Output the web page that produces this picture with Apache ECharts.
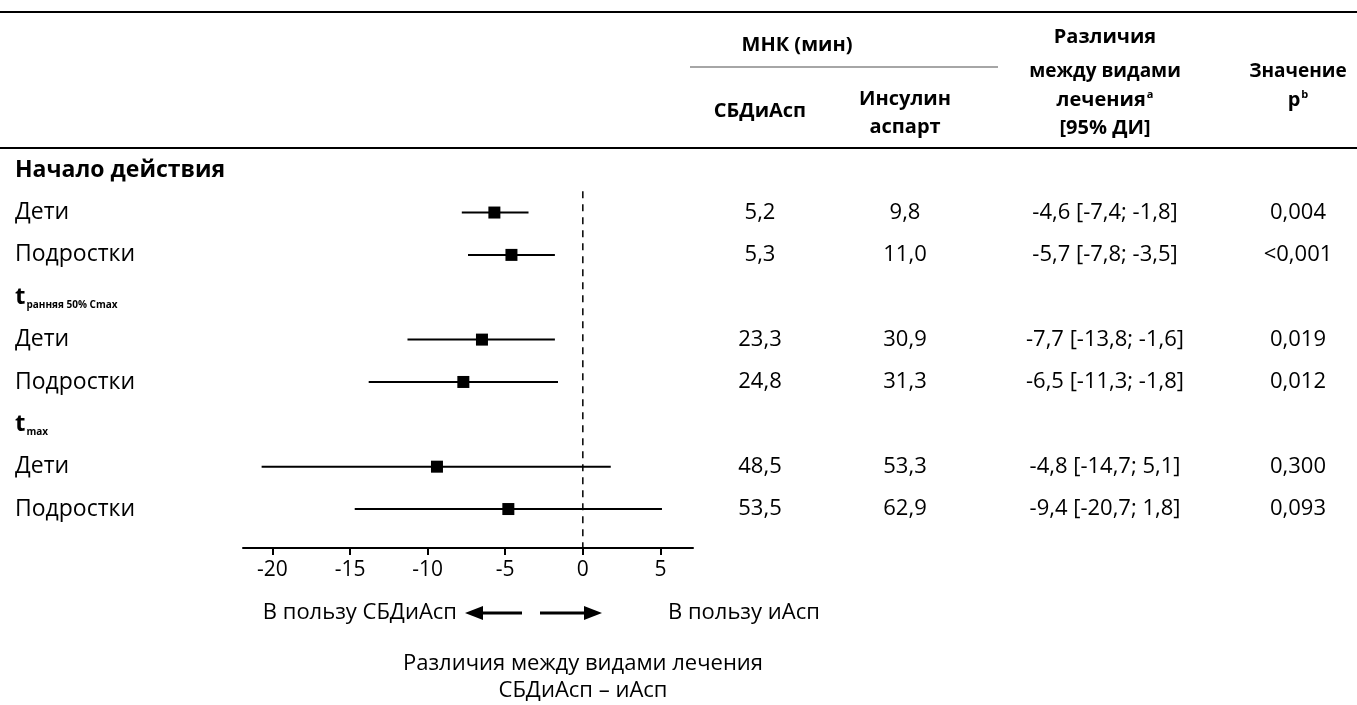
<!DOCTYPE html>
<html><head><meta charset="utf-8">
<script src="https://cdn.jsdelivr.net/npm/echarts@6/dist/echarts.min.js"></script>
<style>html,body{margin:0;padding:0;background:#fff}#c{width:1357px;height:705px}</style>
</head><body><div id="c"></div>
<script>
// ---------- data ----------
const rowLabels = ['Начало действия', 'Дети', 'Подростки', 't', 'Дети', 'Подростки', 't', 'Дети', 'Подростки'];
const rowSubs   = ['', '', '', 'ранняя 50% Cmax', '', '', 'max', '', ''];
const rowKinds  = ['group', 'item', 'item', 'sub', 'item', 'item', 'sub', 'item', 'item'];
// plotted estimates and 95% CI (as drawn in the forest plot)
const estimate = [null, -5.7, -4.6, null, -6.5, -7.7, null, -9.4, -4.8];
const ciLow    = [null, -7.8, -7.4, null, -11.3, -13.8, null, -20.7, -14.7];
const ciHigh   = [null, -3.5, -1.8, null, -1.8, -1.6, null, 1.8, 5.1];
// table columns
const lsmFiasp  = ['', '5,2', '5,3', '', '23,3', '24,8', '', '48,5', '53,5'];
const lsmIAsp   = ['', '9,8', '11,0', '', '30,9', '31,3', '', '53,3', '62,9'];
const diffText  = ['', '-4,6 [-7,4; -1,8]', '-5,7 [-7,8; -3,5]', '', '-7,7 [-13,8; -1,6]', '-6,5 [-11,3; -1,8]', '', '-4,8 [-14,7; 5,1]', '-9,4 [-20,7; 1,8]'];
const pText     = ['', '0,004', '<0,001', '', '0,019', '0,012', '', '0,300', '0,093'];
const xTicks = [-20, -15, -10, -5, 0, 5];
const xMin = -21.9, xMax = 7.1;
const yMin = -0.5, yMax = 8.92;

// ---------- chart ----------
const FONT = 'Open Sans';
const FS = 19;      // bold header size
const BFS = 22;     // body text size
const colX = [760, 905, 1105, 1298];
const chart = echarts.init(document.getElementById('c'));

const ciData = [];
estimate.forEach((e, i) => { if (e !== null) ciData.push([e, i, ciLow[i], ciHigh[i]]); });
const tableData = rowLabels.map((_, i) => [0, i]);

function rowFormatter(v) {
  const i = Math.round(v);
  if (rowKinds[i] === 'group') return '{g|' + rowLabels[i] + '}';
  if (rowKinds[i] === 'sub') return '{t|' + rowLabels[i] + '}{s|' + rowSubs[i] + '}';
  return '{n|' + rowLabels[i] + '}';
}

const txt = (x, y, text, opts) => Object.assign({
  type: 'text', x: x, y: y,
  style: Object.assign({ text: text, fill: '#000', font: 'bold ' + FS + 'px "' + FONT + '"', align: 'center', verticalAlign: 'middle' }, opts || {})
});
const body = BFS + 'px "' + FONT + '"';
const hdr = 'bold 20px "' + FONT + '"';

chart.setOption({
  animation: false,
  backgroundColor: '#fff',
  grid: { left: 243, right: 1357 - 693, top: 149, height: 399, containLabel: false },
  xAxis: {
    type: 'value', min: xMin, max: xMax,
    axisLine: { show: true, onZero: false, lineStyle: { color: '#000', width: 2 } },
    axisTick: { show: true, customValues: xTicks, length: 7, lineStyle: { color: '#000', width: 2 } },
    axisLabel: { customValues: xTicks, color: '#000', fontFamily: FONT, fontSize: 21, margin: 12 },
    splitLine: { show: false }
  },
  yAxis: {
    type: 'value', inverse: true, min: yMin, max: yMax,
    axisLine: { show: false }, axisTick: { show: false }, splitLine: { show: false },
    axisLabel: {
      customValues: rowLabels.map((_, i) => i),
      align: 'left', margin: 228, formatter: rowFormatter,
      rich: {
        g: { fontFamily: FONT, fontWeight: 'bold', fontSize: 23, color: '#000' },
        n: { fontFamily: FONT, fontSize: 23, color: '#000' },
        t: { fontFamily: FONT, fontWeight: 'bold', fontSize: 24, color: '#000' },
        s: { fontFamily: FONT, fontWeight: 'bold', fontSize: 10, color: '#000', padding: [16, 0, 0, 1] }
      }
    }
  },
  series: [
    {
      type: 'custom', name: 'zero', data: [[0]],
      renderItem: (params, api) => {
        const a = api.coord([0, 0.5]), b = api.coord([0, yMax]);
        return { type: 'line', shape: { x1: a[0], y1: a[1], x2: b[0], y2: b[1] },
          style: { stroke: '#000', lineWidth: 1.5, lineDash: [7, 6] } };
      }
    },
    {
      type: 'custom', name: 'ci', data: ciData,
      renderItem: (params, api) => {
        const lo = api.coord([api.value(2), api.value(1)]);
        const hi = api.coord([api.value(3), api.value(1)]);
        const p = api.coord([api.value(0), api.value(1)]);
        const s = 12;
        return { type: 'group', children: [
          { type: 'line', shape: { x1: lo[0], y1: lo[1], x2: hi[0], y2: hi[1] }, style: { stroke: '#000', lineWidth: 2 } },
          { type: 'rect', shape: { x: p[0] - s / 2, y: p[1] - s / 2, width: s, height: s }, style: { fill: '#000' } }
        ] };
      }
    },
    {
      type: 'custom', name: 'table', data: tableData, clip: false,
      renderItem: (params, api) => {
        const i = api.value(1);
        const y = api.coord([0, i])[1];
        const cols = [lsmFiasp[i], lsmIAsp[i], diffText[i], pText[i]];
        return { type: 'group', children: cols.map((t, k) => ({
          type: 'text', x: colX[k], y: y,
          style: { text: t, fill: '#000', font: body, align: 'center', verticalAlign: 'middle' }
        })) };
      }
    }
  ],
  graphic: [
    { type: 'line', shape: { x1: 0, y1: 12, x2: 1357, y2: 12 }, style: { stroke: '#000', lineWidth: 2 } },
    { type: 'line', shape: { x1: 0, y1: 148, x2: 1357, y2: 148 }, style: { stroke: '#000', lineWidth: 2 } },
    { type: 'line', shape: { x1: 690, y1: 67, x2: 998, y2: 67 }, style: { stroke: '#888', lineWidth: 1.5 } },
    txt(797, 45, 'МНК (мин)', { font: hdr }),
    txt(760, 111, 'СБДиАсп', { font: hdr }),
    txt(905, 99, 'Инсулин', { font: hdr }),
    txt(905, 127, 'аспарт', { font: hdr }),
    txt(1105, 37, 'Различия', { font: hdr }),
    txt(1105, 72, 'между видами'),
    txt(1105, 100, '{m|лечения}{u|a}', { rich: { m: { font: hdr }, u: { font: 'bold 11px "' + FONT + '"', padding: [0, 0, 10, 1] } } }),
    txt(1105, 128, '[95% ДИ]', { font: hdr }),
    txt(1298, 72, 'Значение'),
    txt(1298, 100, '{m|p}{u|b}', { rich: { m: { font: hdr }, u: { font: 'bold 11px "' + FONT + '"', padding: [0, 0, 10, 1] } } }),
    txt(457, 613, 'В пользу СБДиАсп', { font: body, align: 'right' }),
    { type: 'line', shape: { x1: 478, y1: 613, x2: 522, y2: 613 }, style: { stroke: '#000', lineWidth: 3 } },
    { type: 'polygon', shape: { points: [[465, 613], [483, 606], [483, 620]] }, style: { fill: '#000' } },
    { type: 'line', shape: { x1: 540, y1: 613, x2: 588, y2: 613 }, style: { stroke: '#000', lineWidth: 3 } },
    { type: 'polygon', shape: { points: [[602, 613], [584, 606], [584, 620]] }, style: { fill: '#000' } },
    txt(668, 613, 'В пользу иАсп', { font: body, align: 'left' }),
    txt(583, 664, 'Различия между видами лечения', { font: body }),
    txt(583, 691, 'СБДиАсп – иАсп', { font: body })
  ]
});
</script>
</body></html>
